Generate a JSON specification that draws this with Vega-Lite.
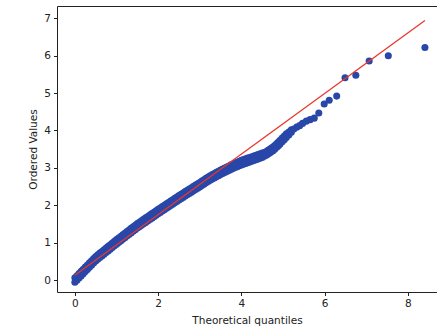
{
  "$schema": "https://vega.github.io/schema/vega-lite/v6.json",
  "width": 380,
  "height": 286,
  "autosize": {"type": "none"},
  "padding": {"left": 57, "top": 6, "right": 0, "bottom": 40},
  "background": "white",
  "config": {
    "view": {"stroke": null},
    "font": "DejaVu Sans",
    "axis": {
      "domainColor": "#222222", "domainWidth": 1, "tickColor": "#222222", "tickSize": 3.5, "tickWidth": 1,
      "labelColor": "#222222", "labelFontSize": 10.5, "labelFont": "DejaVu Sans", "labelPadding": 3,
      "titleFontSize": 10.5, "titleFont": "DejaVu Sans", "titleFontWeight": "normal", "titleColor": "#222222",
      "grid": false
    }
  },
  "datasets": {
    "pts": [
      {"q":0.00,"v":0.06},{"q":0.00,"v":-0.06},{"q":0.05,"v":0.117},{"q":0.05,"v":-0.003},{"q":0.10,"v":0.174},{"q":0.10,"v":0.054},
      {"q":0.15,"v":0.231},{"q":0.15,"v":0.111},{"q":0.20,"v":0.288},{"q":0.20,"v":0.168},{"q":0.25,"v":0.345},{"q":0.25,"v":0.225},
      {"q":0.30,"v":0.402},{"q":0.30,"v":0.282},{"q":0.35,"v":0.459},{"q":0.35,"v":0.339},{"q":0.40,"v":0.516},{"q":0.40,"v":0.396},
      {"q":0.45,"v":0.573},{"q":0.45,"v":0.453},{"q":0.50,"v":0.63},{"q":0.50,"v":0.51},{"q":0.55,"v":0.675},{"q":0.55,"v":0.555},
      {"q":0.60,"v":0.72},{"q":0.60,"v":0.60},{"q":0.65,"v":0.765},{"q":0.65,"v":0.645},{"q":0.70,"v":0.81},{"q":0.70,"v":0.69},
      {"q":0.75,"v":0.855},{"q":0.75,"v":0.735},{"q":0.80,"v":0.90},{"q":0.80,"v":0.78},{"q":0.85,"v":0.945},{"q":0.85,"v":0.825},
      {"q":0.90,"v":0.99},{"q":0.90,"v":0.87},{"q":0.95,"v":1.035},{"q":0.95,"v":0.915},{"q":1.00,"v":1.08},{"q":1.00,"v":0.96},
      {"q":1.05,"v":1.123},{"q":1.05,"v":1.003},{"q":1.10,"v":1.166},{"q":1.10,"v":1.046},{"q":1.15,"v":1.209},{"q":1.15,"v":1.089},
      {"q":1.20,"v":1.252},{"q":1.20,"v":1.132},{"q":1.25,"v":1.295},{"q":1.25,"v":1.175},{"q":1.30,"v":1.338},{"q":1.30,"v":1.218},
      {"q":1.35,"v":1.381},{"q":1.35,"v":1.261},{"q":1.40,"v":1.424},{"q":1.40,"v":1.304},{"q":1.45,"v":1.467},{"q":1.45,"v":1.347},
      {"q":1.50,"v":1.51},{"q":1.50,"v":1.39},{"q":1.55,"v":1.548},{"q":1.55,"v":1.428},{"q":1.60,"v":1.586},{"q":1.60,"v":1.466},
      {"q":1.65,"v":1.624},{"q":1.65,"v":1.504},{"q":1.70,"v":1.662},{"q":1.70,"v":1.542},{"q":1.75,"v":1.70},{"q":1.75,"v":1.58},
      {"q":1.80,"v":1.738},{"q":1.80,"v":1.618},{"q":1.85,"v":1.776},{"q":1.85,"v":1.656},{"q":1.90,"v":1.814},{"q":1.90,"v":1.694},
      {"q":1.95,"v":1.852},{"q":1.95,"v":1.732},{"q":2.00,"v":1.89},{"q":2.00,"v":1.77},{"q":2.05,"v":1.927},{"q":2.05,"v":1.807},
      {"q":2.10,"v":1.964},{"q":2.10,"v":1.844},{"q":2.15,"v":2.001},{"q":2.15,"v":1.881},{"q":2.20,"v":2.038},{"q":2.20,"v":1.918},
      {"q":2.25,"v":2.075},{"q":2.25,"v":1.955},{"q":2.30,"v":2.112},{"q":2.30,"v":1.992},{"q":2.35,"v":2.149},{"q":2.35,"v":2.029},
      {"q":2.40,"v":2.186},{"q":2.40,"v":2.066},{"q":2.45,"v":2.223},{"q":2.45,"v":2.103},{"q":2.50,"v":2.26},{"q":2.50,"v":2.14},
      {"q":2.55,"v":2.295},{"q":2.55,"v":2.175},{"q":2.60,"v":2.33},{"q":2.60,"v":2.21},{"q":2.65,"v":2.365},{"q":2.65,"v":2.245},
      {"q":2.70,"v":2.40},{"q":2.70,"v":2.28},{"q":2.75,"v":2.435},{"q":2.75,"v":2.315},{"q":2.80,"v":2.47},{"q":2.80,"v":2.35},
      {"q":2.85,"v":2.505},{"q":2.85,"v":2.385},{"q":2.90,"v":2.54},{"q":2.90,"v":2.42},{"q":2.95,"v":2.575},{"q":2.95,"v":2.455},
      {"q":3.00,"v":2.61},{"q":3.00,"v":2.49},{"q":3.05,"v":2.647},{"q":3.05,"v":2.527},{"q":3.10,"v":2.684},{"q":3.10,"v":2.564},
      {"q":3.15,"v":2.721},{"q":3.15,"v":2.601},{"q":3.20,"v":2.758},{"q":3.20,"v":2.638},{"q":3.25,"v":2.79},{"q":3.25,"v":2.67},
      {"q":3.30,"v":2.82},{"q":3.30,"v":2.70},{"q":3.35,"v":2.85},{"q":3.35,"v":2.73},{"q":3.40,"v":2.88},{"q":3.40,"v":2.76},
      {"q":3.45,"v":2.91},{"q":3.45,"v":2.79},{"q":3.50,"v":2.94},{"q":3.50,"v":2.82},{"q":3.55,"v":2.968},{"q":3.55,"v":2.848},
      {"q":3.60,"v":2.996},{"q":3.60,"v":2.876},{"q":3.65,"v":3.024},{"q":3.65,"v":2.904},{"q":3.70,"v":3.052},{"q":3.70,"v":2.932},
      {"q":3.75,"v":3.08},{"q":3.75,"v":2.96},{"q":3.80,"v":3.104},{"q":3.80,"v":2.984},{"q":3.85,"v":3.128},{"q":3.85,"v":3.008},
      {"q":3.90,"v":3.152},{"q":3.90,"v":3.032},{"q":3.95,"v":3.176},{"q":3.95,"v":3.056},{"q":4.00,"v":3.20},{"q":4.00,"v":3.08},
      {"q":4.05,"v":3.22},{"q":4.05,"v":3.10},{"q":4.10,"v":3.24},{"q":4.10,"v":3.12},{"q":4.15,"v":3.26},{"q":4.15,"v":3.14},
      {"q":4.20,"v":3.28},{"q":4.20,"v":3.16},{"q":4.25,"v":3.30},{"q":4.25,"v":3.18},{"q":4.30,"v":3.32},{"q":4.30,"v":3.20},
      {"q":4.35,"v":3.34},{"q":4.35,"v":3.22},{"q":4.40,"v":3.36},{"q":4.40,"v":3.24},{"q":4.45,"v":3.38},{"q":4.45,"v":3.26},
      {"q":4.50,"v":3.40},{"q":4.50,"v":3.28},
      {"q":4.55,"v":3.41},{"q":4.55,"v":3.31},{"q":4.60,"v":3.44},{"q":4.60,"v":3.34},{"q":4.64,"v":3.47},{"q":4.64,"v":3.37},
      {"q":4.68,"v":3.50},{"q":4.68,"v":3.40},{"q":4.72,"v":3.53},{"q":4.72,"v":3.43},{"q":4.76,"v":3.56},{"q":4.76,"v":3.46},
      {"q":4.80,"v":3.60},{"q":4.80,"v":3.50},{"q":4.85,"v":3.65},{"q":4.85,"v":3.55},{"q":4.89,"v":3.69},{"q":4.89,"v":3.59},
      {"q":4.93,"v":3.74},{"q":4.93,"v":3.64},{"q":4.98,"v":3.80},{"q":4.98,"v":3.70},{"q":5.03,"v":3.85},{"q":5.03,"v":3.75},
      {"q":5.08,"v":3.91},{"q":5.08,"v":3.81},{"q":5.14,"v":3.96},{"q":5.14,"v":3.88},{"q":5.20,"v":4.02},{"q":5.20,"v":3.95},
      {"q":5.26,"v":4.04},{"q":5.33,"v":4.09},{"q":5.40,"v":4.13},{"q":5.47,"v":4.19},
      {"q":5.56,"v":4.25},{"q":5.65,"v":4.29},{"q":5.75,"v":4.33},{"q":5.86,"v":4.47},{"q":5.99,"v":4.71},{"q":6.11,"v":4.81},
      {"q":6.29,"v":4.92},{"q":6.49,"v":5.41},{"q":6.75,"v":5.48},{"q":7.07,"v":5.86},{"q":7.53,"v":6.00},{"q":8.41,"v":6.22}
    ],
    "fit": [
      {"q": 0.0, "v": 0.13},
      {"q": 8.41, "v": 6.94}
    ]
  },
  "layer": [
    {
      "data": {"name": "pts"},
      "mark": {"type": "circle", "size": 50, "opacity": 1, "color": "#2947a9"},
      "encoding": {
        "x": {
          "field": "q", "type": "quantitative",
          "scale": {"domain": [-0.43, 8.7], "nice": false, "zero": false},
          "axis": {"orient": "bottom", "values": [0, 2, 4, 6, 8], "title": "Theoretical quantiles", "titlePadding": 6}
        },
        "y": {
          "field": "v", "type": "quantitative",
          "scale": {"domain": [-0.32, 7.33], "nice": false, "zero": false},
          "axis": {"values": [0, 1, 2, 3, 4, 5, 6, 7], "title": "Ordered Values", "titlePadding": 5}
        }
      }
    },
    {
      "data": {"name": "fit"},
      "mark": {"type": "line", "color": "#e8372f", "strokeWidth": 1.3},
      "encoding": {
        "x": {
          "field": "q", "type": "quantitative",
          "axis": {"orient": "top", "labels": false, "ticks": false, "title": null}
        },
        "y": {"field": "v", "type": "quantitative"}
      }
    }
  ],
  "resolve": {"axis": {"x": "independent"}}
}
